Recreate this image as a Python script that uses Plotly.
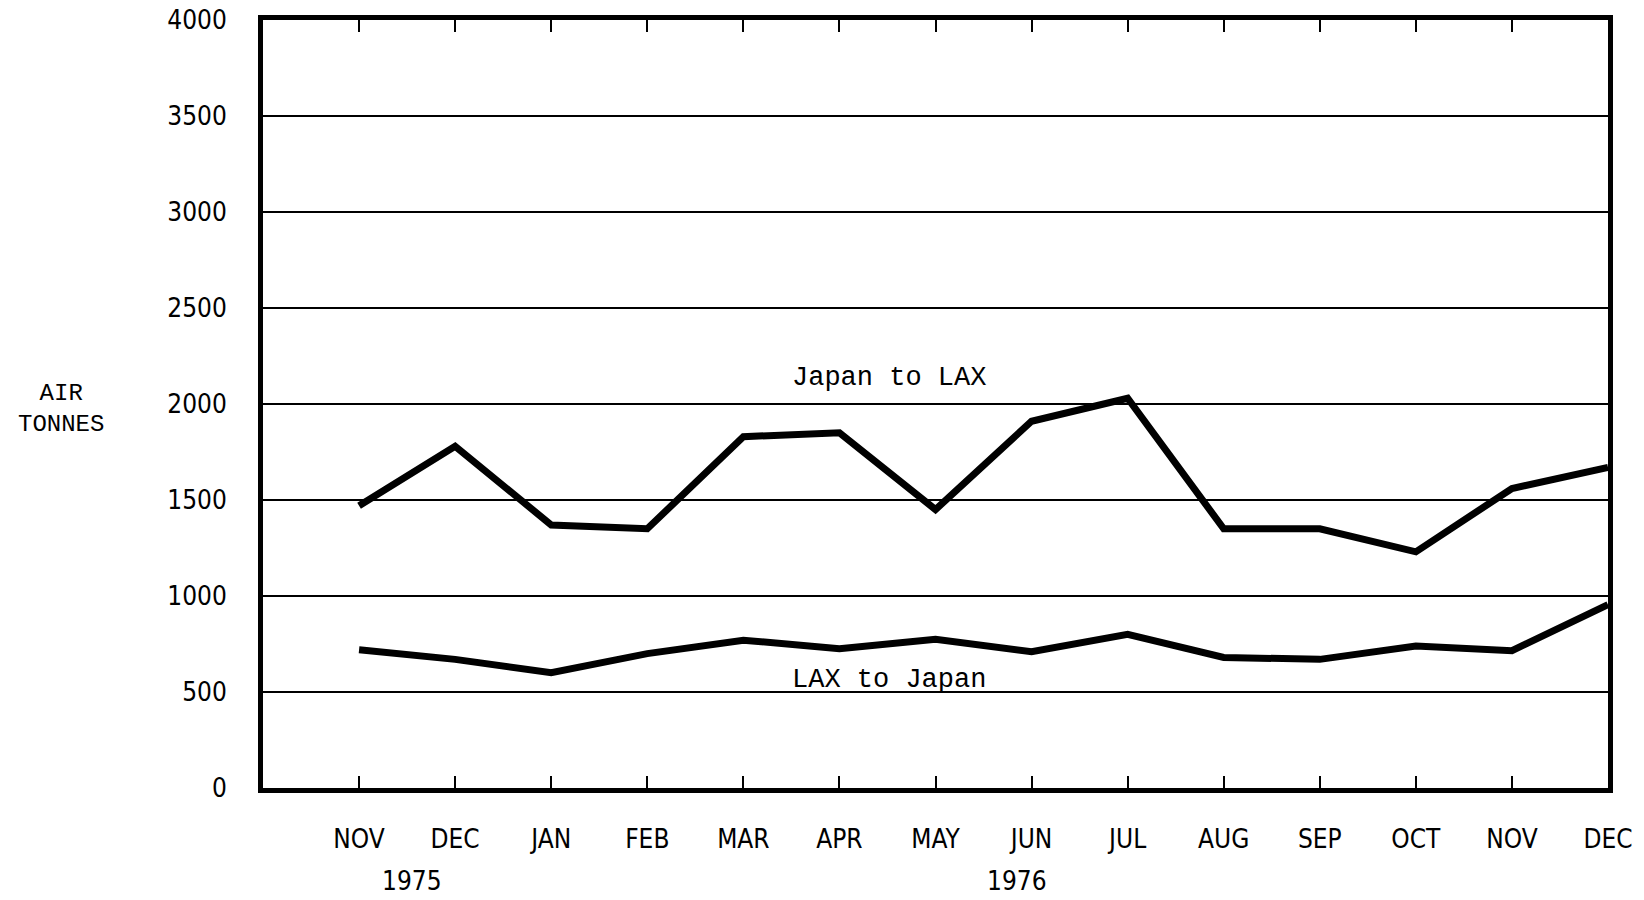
import plotly.graph_objects as go

months = ["NOV", "DEC", "JAN", "FEB", "MAR", "APR", "MAY",
          "JUN", "JUL", "AUG", "SEP", "OCT", "NOV", "DEC"]
years = ["1975", "1976"]
year_pos = [0.55, 6.85]

japan_to_lax = [1470, 1780, 1370, 1350, 1830, 1850, 1450,
                1910, 2030, 1350, 1350, 1230, 1560, 1670]
lax_to_japan = [720, 670, 600, 700, 770, 725, 775,
                710, 800, 680, 670, 740, 715, 955]

x = list(range(len(months)))
txt_font = dict(family="Liberation Mono, DejaVu Sans Mono, monospace", size=27, color="black")
tick_font = dict(family="Liberation Sans Narrow, DejaVu Sans Condensed, Roboto, sans-serif", size=26, color="black")

fig = go.Figure()
fig.add_trace(go.Scatter(x=x, y=japan_to_lax, mode="lines",
                         line=dict(color="black", width=7), name="Japan to LAX"))
fig.add_trace(go.Scatter(x=x, y=lax_to_japan, mode="lines",
                         line=dict(color="black", width=7), name="LAX to Japan"))

fig.add_annotation(x=5.52, y=2135, text="Japan to LAX", showarrow=False, font=txt_font)
fig.add_annotation(x=5.52, y=560, text="LAX to Japan", showarrow=False, font=txt_font)
fig.add_annotation(xref="paper", x=-0.15, xanchor="center", y=1975, text="AIR<br>TONNES",
                   showarrow=False, font=dict(txt_font, size=24), align="center")
for yr, xp in zip(years, year_pos):
    fig.add_annotation(x=xp, yref="paper", y=0, yshift=-110, text=yr,
                       showarrow=False, font=tick_font)

fig.update_xaxes(range=[-1, 13], tickvals=x, ticktext=months,
                 ticks="inside", ticklen=12, tickwidth=2, tickcolor="black",
                 showline=True, linewidth=5, linecolor="black", mirror="ticks",
                 showgrid=False, zeroline=False, tickfont=tick_font,
                 ticklabelstandoff=24, automargin=False)
fig.update_yaxes(range=[0, 4000], tickvals=[0, 500, 1000, 1500, 2000, 2500, 3000, 3500, 4000],
                 showline=True, linewidth=5, linecolor="black", mirror=True,
                 showgrid=True, gridcolor="black", gridwidth=2, zeroline=False,
                 tickfont=tick_font, ticklabelstandoff=26, automargin=False)

fig.update_layout(width=1644, height=900, showlegend=False,
                  plot_bgcolor="white", paper_bgcolor="white",
                  margin=dict(l=263, r=36, t=20, b=112))

fig.write_html("out.html", config={"displayModeBar": False},
               post_script="document.body.style.margin='0';")
